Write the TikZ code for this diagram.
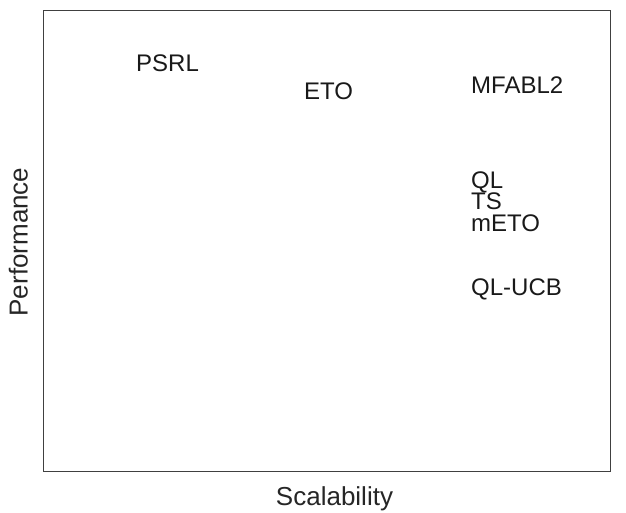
\documentclass[tikz,border=0pt]{standalone}
\usepackage{fontspec}
\setmainfont{Liberation Sans}
\usepackage{tikz}
\usetikzlibrary{positioning}
\tikzstyle{method} = [anchor=base west, inner sep=0pt, font=\fontsize{24}{24}\selectfont, text=black!90]
\tikzstyle{axislabel} = [anchor=base, inner sep=0pt, font=\fontsize{26}{26}\selectfont, text=black!85]

\begin{document}
\begin{tikzpicture}[x=1pt, y=-1pt]
\useasboundingbox (0,0) rectangle (626,512);

% plot frame
\coordinate (topleft) at (43,10);
\coordinate (botright) at (610,471);
\draw[black!75, line width=1pt] (topleft) rectangle (botright);

% methods
\node (psrl) [method] at (136,71) {PSRL};
\node (eto) [method] at (304,99) {ETO};
\node (mfabl) [method] at (471,93) {MFABL2};
\node (ql) [method] at (471,188) {QL};
\node (ts) [method] at (471,209.5) {TS};
\node (meto) [method] at (471,231) {mETO};
\node (qlucb) [method] at (471,295) {QL-UCB};

% axes
\node (xlab) [axislabel] at (334.5,505.5) {Scalability};
\node (ylab) [axislabel, rotate=90] at (27.5,242) {Performance};
\end{tikzpicture}
\end{document}
